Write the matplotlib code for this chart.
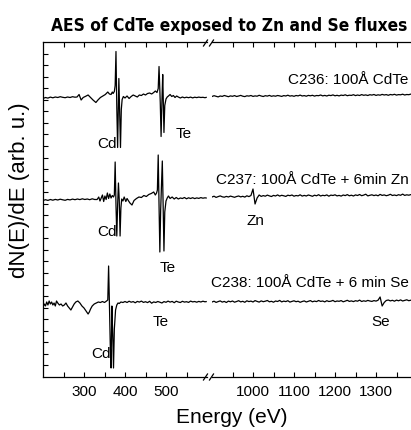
import numpy as np
import matplotlib
matplotlib.use("Agg")
import matplotlib.pyplot as plt
from matplotlib.lines import Line2D
from matplotlib.ticker import FixedLocator, NullFormatter
from matplotlib import font_manager

# ---------------- data (arbitrary units) ----------------
offsets = [279.5, 177.0, 73.0]          # vertical offsets of the three spectra
names = ["C236: 100Å CdTe", "C237: 100Å CdTe + 6min Zn", "C238: 100Å CdTe + 6 min Se"]

# left segment (200-600 eV)
e1 = [200, 206, 212, 218, 224, 230, 236, 242, 248, 254, 260, 266, 272, 278, 283, 288, 293, 298, 304, 310,
      316, 322, 329, 334, 340, 346, 352, 358, 362, 366, 369, 371, 374, 376, 378, 380, 382, 385, 387, 389,
      391, 393, 396, 400, 405, 410, 415, 420, 425, 430, 435, 440, 445, 450, 455, 460, 465, 470, 474, 478,
      481, 483, 486, 488, 490, 492, 493, 495, 497, 500, 503, 506, 510, 514, 518, 522, 526, 530, 535, 540,
      545, 550, 555, 560, 565, 570, 575, 580, 585, 590, 595, 598]
v1 = [-1.0, 0.0, -0.6, 0.4, -0.3, 0.5, 0.0, 0.8, 0.2, -0.2, 0.5, 0.0, 0.8, 0.3, 0.5, 3.0, -2.5, 0.0, 1.2, 2.5,
      0.0, -2.5, -5.0, -2.5, 0.0, 1.5, 3.0, 5.5, 3.5, 3.0, 5.5, 4.0, 6.0, 12.0, 46.0, -10.0, -50.0, 19.0, -15.0, -50.0,
      -12.0, -2.0, 1.0, -0.5, 1.5, -1.0, 1.0, 2.5, 1.5, 0.5, 2.5, 2.0, 3.5, 2.5, 4.0, 4.5, 3.5, 5.0, 6.5, 5.0,
      9.0, 31.0, -5.0, -39.0, -5.0, 23.0, 5.0, -35.0, -8.0, -1.5, 0.5, 1.5, 3.0, 1.0, 2.0, 0.0, 1.5, 0.5, -0.5, 0.5,
      -0.3, 0.3, -0.2, 0.4, -0.4, 0.3, -0.1, 0.4, 0.0, 0.2, -0.2, 0.1]

e2 = [200, 206, 212, 218, 224, 230, 236, 242, 248, 254, 260, 266, 272, 278, 284, 290, 296, 302, 308, 314,
      320, 326, 332, 336, 339, 342, 345, 348, 351, 354, 357, 360, 363, 366, 369, 372, 374, 376, 378, 380,
      382, 384, 386, 388, 390, 392, 395, 398, 402, 405, 408, 412, 417, 422, 428, 434, 440, 446, 452, 458,
      464, 470, 474, 477, 479, 481, 483, 485, 487, 489, 491, 493, 495, 497, 500, 503, 506, 510, 515, 520,
      525, 530, 535, 540, 545, 550, 555, 560, 565, 570, 575, 580, 585, 590, 595, 598]
v2 = [-0.5, 0.3, -0.4, 0.5, -0.2, 0.6, 0.0, 0.8, 0.2, -0.3, 0.6, 0.1, 0.9, 0.3, 1.0, 0.4, 1.2, 0.5, 1.0, 0.3,
      1.2, 0.5, 0.5, 3.0, -1.0, 2.0, 5.0, -1.5, 4.0, 0.5, 7.0, 1.5, 6.0, 2.0, 4.5, 3.0, 5.0, 38.0, -5.0, -36.0,
      -5.0, 17.0, 0.0, -36.0, -8.0, 1.0, -1.0, 3.0, -1.5, 1.5, -0.5, -3.0, -5.0, -0.5, 1.5, 3.0, 2.5, 4.5, 3.5, 5.5,
      6.5, 8.0, 5.0, 7.0, 10.0, 45.0, -5.0, -52.0, -10.0, 15.0, 39.0, -5.0, -51.0, -12.0, -1.0, 2.0, 4.0, 1.5, 3.0, 1.0,
      2.5, 1.0, 2.0, 1.5, 2.5, 1.2, 2.2, 1.5, 2.3, 1.4, 2.1, 1.6, 2.4, 1.8, 2.2, 2.0]

e3 = [200, 203, 206, 209, 212, 215, 218, 221, 224, 227, 230, 233, 236, 240, 244, 248, 252, 256, 260, 264,
      268, 272, 276, 280, 285, 290, 295, 300, 305, 310, 313, 316, 320, 325, 330, 335, 340, 345, 350, 355,
      358, 360, 362, 364, 366, 368, 370, 372, 374, 377, 380, 383, 386, 390, 395, 400, 405, 410, 415, 420,
      425, 430, 435, 440, 445, 450, 455, 460, 465, 470, 475, 480, 485, 490, 495, 500, 505, 510, 515, 520,
      525, 530, 535, 540, 545, 550, 555, 560, 565, 570, 575, 580, 585, 590, 595, 598]
v3 = [-3.0, 0.0, -2.0, 2.0, -1.0, 3.0, 0.0, 2.0, -1.0, 1.0, -2.0, 3.0, 1.0, -1.0, 0.0, -2.0, -1.0, 1.0, -2.0, -4.0,
      -6.0, -3.0, 0.0, 2.0, 3.0, 1.0, -2.0, -4.0, -7.0, -10.0, -8.0, -5.0, -2.0, 0.0, 1.0, 2.0, 1.5, 2.5, 1.5, 3.0,
      4.0, 38.0, 0.0, -40.0, -64.0, -2.0, -30.0, -64.0, -25.0, -6.0, -1.0, 1.0, 0.5, 2.0, 1.5, 2.5, 1.5, 2.8, 1.8, 2.4,
      1.2, 2.6, 1.9, 2.9, 1.6, 2.3, 1.4, 2.7, 0.8, 2.1, 1.5, 2.5, 1.8, 1.0, 2.4, 1.7, 2.9, 1.9, 2.6, 1.3,
      2.8, 2.0, 1.5, 2.7, 1.9, 2.3, 1.6, 2.9, 2.1, 2.5, 1.8, 2.6, 2.0, 2.8, 2.2, 2.4]

# right segment (900-1395 eV, 5 eV sampling)
e_right = np.arange(900, 1400, 5)
r1 = [1.0, 1.8, 1.2, 0.6, 1.5, 1.1, 2.0, 1.4, 0.8, 1.6, 1.2, 1.9, 1.0, 1.5, 2.1, 1.3, 0.9, 1.7, 1.4, 2.0,
      1.1, 1.6, 1.3, 2.2, 1.5, 1.0, 1.8, 1.4, 2.1, 1.2, 1.7, 1.3, 2.0, 1.6, 1.1, 1.9, 1.5, 2.3, 1.4, 1.8,
      1.2, 2.0, 1.6, 2.4, 1.5, 1.9, 1.3, 2.1, 1.7, 2.2, 1.4, 2.0, 1.8, 2.5, 1.6, 2.1, 1.5, 2.3, 1.9, 2.6,
      1.7, 2.2, 1.6, 2.4, 2.0, 2.7, 1.8, 2.3, 2.1, 2.8, 1.9, 2.5, 2.0, 2.9, 2.2, 2.6, 2.0, 2.8, 2.4, 3.0,
      2.1, 2.7, 2.3, 3.1, 2.5, 2.9, 2.2, 3.0, 2.6, 3.2, 2.4, 2.9, 2.7, 3.3, 2.5, 3.0, 2.8, 3.4, 2.9, 3.2]
r2 = [3.0, 3.8, 2.6, 3.4, 4.1, 3.2, 2.8, 3.6, 3.0, 3.9, 3.3, 2.7, 3.5, 4.0, 3.1, 3.7, 2.9, 4.2, 3.4, 4.5,
      11.0, -4.0, 2.0, 5.0, 3.6, 4.4, 3.8, 4.9, 4.1, 3.5, 4.6, 4.0, 5.1, 3.9, 4.7, 4.2, 3.6, 4.8, 4.3, 5.0,
      3.8, 4.5, 4.1, 5.2, 3.9, 4.6, 4.0, 5.0, 4.4, 3.7, 4.8, 4.2, 5.3, 4.0, 4.7, 4.3, 5.1, 3.8, 4.9, 4.5,
      5.2, 4.1, 4.6, 3.9, 5.0, 4.4, 5.4, 4.2, 4.8, 4.0, 5.1, 4.5, 5.5, 4.3, 4.9, 5.8, 4.1, 4.7, 5.2, 4.4,
      5.0, 4.2, 5.6, 4.6, 5.1, 4.3, 4.8, 5.7, 4.5, 5.0, 4.4, 5.3, 4.7, 5.9, 4.6, 5.2, 4.8, 5.4, 4.9, 5.1]
r3 = [2.0, 2.8, 1.6, 2.4, 3.1, 1.9, 2.6, 1.5, 2.9, 2.2, 3.0, 1.8, 2.5, 3.3, 2.1, 2.7, 1.7, 3.2, 2.4, 2.9,
      2.0, 3.4, 2.6, 1.9, 3.1, 2.3, 2.8, 3.5, 2.2, 2.7, 1.8, 3.0, 2.5, 3.6, 2.1, 2.9, 2.4, 3.3, 1.9, 2.6,
      3.2, 2.3, 2.8, 1.7, 2.5, 3.1, 2.0, 2.7, 3.4, 2.2, 2.9, 2.4, 3.5, 2.6, 3.0, 2.1, 3.3, 2.5, 2.8, 3.6,
      2.3, 3.0, 2.7, 3.4, 2.2, 2.9, 3.7, 2.6, 3.1, 2.4, 3.3, 2.8, 3.9, 2.5, 3.2, 2.7, 3.6, 3.0, 2.6, 3.4,
      2.9, 3.8, 7.0, -2.0, 1.5, 3.5, 4.0, 3.1, 3.7, 2.8, 3.9, 3.2, 4.1, 3.0, 3.6, 4.2, 3.3, 3.8, 3.1, 4.0]

left_spectra = [(e1, v1), (e2, v2), (e3, v3)]
right_spectra = [r1, r2, r3]

# peak labels: (panel, energy, height, text)
peak_labels = [("L", 356, 234, "Cd"), ("L", 544, 244, "Te"),
               ("L", 356, 146, "Cd"), ("L", 505, 110, "Te"), ("R", 1007, 157, "Zn"),
               ("L", 341, 24, "Cd"), ("L", 488, 56, "Te"), ("R", 1312, 56, "Se")]
name_heights = [298, 198, 95]

left_ticks_major = [300, 400, 500]
left_ticks_minor = [250, 350, 450, 550]
right_ticks_major = [1000, 1100, 1200, 1300]
right_ticks_minor = [950, 1050, 1150, 1250, 1350]

# ---------------- figure ----------------
W, H = 411, 431
fig = plt.figure(figsize=(W / 100, H / 100), dpi=100)
SANS = ["Liberation Sans", "DejaVu Sans"]
plt.rcParams["font.family"] = SANS

# pick a narrow/condensed bold face for the title if one is installed
available = {f.name for f in font_manager.fontManager.ttflist}
title_kw = dict(fontsize=13, fontweight="bold", family=SANS)
if "Liberation Sans Narrow" in available:
    title_kw = dict(fontsize=14, fontweight="bold", family=["Liberation Sans Narrow"] + SANS)
elif "DejaVu Sans Condensed" in available:
    title_kw = dict(fontsize=12.4, fontweight="bold", family=["DejaVu Sans Condensed"] + SANS)
else:
    cond = [f for f in font_manager.fontManager.ttflist
            if f.name == "DejaVu Sans" and f.stretch == "condensed" and f.weight in ("bold", 700)]
    if cond:
        title_kw = dict(fontsize=12.4, fontweight="bold", family=["DejaVu Sans"], fontstretch="condensed")

def px_rect(x0, x1, ytop, ybot):
    return [x0 / W, (H - ybot) / H, (x1 - x0) / W, (ybot - ytop) / H]

axL = fig.add_axes(px_rect(43, 207, 43, 378))
axR = fig.add_axes(px_rect(212, 417, 43, 378))

YMAX = 335
yt = list(np.linspace(0, YMAX, 30)[1:-1])

for ax, xl in ((axL, (200, 600)), (axR, (900, 1400))):
    ax.set_xlim(*xl)
    ax.set_ylim(0, YMAX)
    for s in ax.spines.values():
        s.set_linewidth(0.9)
    ax.tick_params(which="both", direction="in", top=True, bottom=True,
                   length=3.5, width=0.8, labelsize=11, pad=5)

axL.spines["right"].set_visible(False)
axR.spines["left"].set_visible(False)
axL.set_xticks(left_ticks_major)
axL.set_xticks(left_ticks_minor, minor=True)
axR.set_xticks(right_ticks_major)
axR.set_xticks(right_ticks_minor, minor=True)
axL.yaxis.set_major_locator(FixedLocator(yt))
axL.yaxis.set_major_formatter(NullFormatter())
axL.tick_params(axis="y", left=True, right=False, length=3.5)
axR.tick_params(axis="y", left=False, right=False, labelleft=False)

for (e, v), off in zip(left_spectra, offsets):
    axL.plot(e, np.array(v) + off, color="black", lw=0.9)
for r, off in zip(right_spectra, offsets):
    axR.plot(e_right, np.array(r) + off, color="black", lw=0.9)

for panel, x, y, t in peak_labels:
    ax = axL if panel == "L" else axR
    ax.text(x, y, t, ha="center", va="center", fontsize=11, clip_on=False)
for nm, y in zip(names, name_heights):
    axR.text(1380, y, nm, ha="right", va="center", fontsize=11, clip_on=False)

# axis break marks
def slash(x0, y0):
    fig.add_artist(Line2D([x0 / 100, (x0 + 4) / 100], [(H - y0 - 3) / 100, (H - y0 + 3) / 100],
                          transform=fig.dpi_scale_trans, color="black", lw=0.9))
for xs in (203.5, 209.5):
    slash(xs, 44)
    slash(xs, 378)

fig.text(20 / W, (H - 190) / H, "dN(E)/dE (arb. u.)", rotation=90, ha="center", va="center", fontsize=16)
fig.text(232 / W, (H - 423) / H, "Energy (eV)", ha="center", va="baseline", fontsize=15)
fig.text(229 / W, (H - 31) / H, "AES of CdTe exposed to Zn and Se fluxes", ha="center", va="baseline",
         **title_kw)

fig.savefig("out.png", dpi=100)
